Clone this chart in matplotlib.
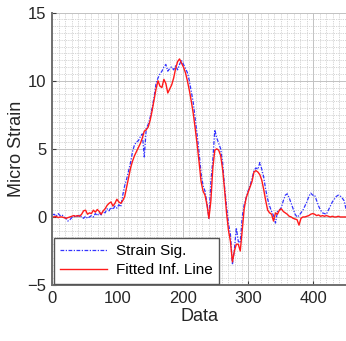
import numpy as np
import matplotlib
matplotlib.use("Agg")
import matplotlib.pyplot as plt
from matplotlib.ticker import MultipleLocator

plt.rcParams['font.family'] = ['Liberation Sans', 'DejaVu Sans']

# sample index step between stored readings
step = 3

strain_sig = [
    0.15, 0.2, 0.05, 0.25, 0.1, 0.15, 0.0, -0.1, -0.3, -0.2,
    -0.05, 0.0, 0.1, 0.05, 0.15, 0.0, -0.1, 0.05, -0.1, 0.0,
    0.1, 0.0, 0.25, 0.1, 0.3, 0.15, 0.4, 0.3, 0.6, 0.45,
    0.7, 0.55, 0.8, 0.65, 0.9, 0.75, 1.6, 2.3, 2.8, 3.4,
    4.0, 4.8, 5.3, 5.5, 5.6, 5.9, 6.1, 4.4, 6.5, 6.8,
    7.3, 8.0, 8.8, 9.8, 10.2, 10.5, 10.7, 11.0, 11.2, 10.7,
    10.9, 11.0, 10.8, 11.1, 10.8, 11.2, 11.5, 11.2, 10.9, 10.6,
    10.0, 9.2, 8.4, 7.2, 6.0, 4.7, 3.2, 2.3, 1.9, 1.0,
    -0.1, 2.6, 4.2, 6.4, 5.8, 5.4, 5.0, 4.0, 2.2, 0.8,
    -0.5, -1.3, -3.5, -2.4, -0.8, -1.8, -1.9, 0.0, 0.9, 1.4,
    1.9, 2.3, 2.8, 3.4, 3.6, 3.5, 4.0, 3.5, 2.9, 2.0,
    1.3, 0.8, 0.4, 0.1, -0.45, 0.4, 0.5, 0.7, 1.2, 1.6,
    1.7, 1.4, 1.0, 0.6, 0.2, 0.0, 0.1, 0.3, 0.5, 0.8,
    1.1, 1.5, 1.75, 1.6, 1.6, 1.2, 0.8, 0.5, 0.3, 0.25,
    0.2, 0.5, 0.8, 1.1, 1.3, 1.5, 1.6, 1.55, 1.4, 1.2,
    0.6,
]

fitted_line = [
    0.0, 0.0, 0.05, -0.05, 0.0, 0.0, -0.05, -0.1, -0.05, 0.0,
    0.05, 0.1, 0.05, 0.1, 0.05, 0.2, 0.45, 0.5, 0.2, 0.3,
    0.25, 0.5, 0.35, 0.55, 0.4, 0.2, 0.45, 0.6, 0.85, 1.0,
    1.1, 0.8, 1.0, 1.3, 1.1, 1.0, 1.2, 1.5, 2.2, 2.9,
    3.6, 4.1, 4.5, 4.8, 5.1, 5.4, 5.8, 6.3, 6.4, 6.6,
    7.1, 7.8, 8.6, 9.4, 10.0, 9.6, 9.5, 10.1, 9.8, 9.1,
    9.4, 9.7, 10.2, 10.9, 11.4, 11.6, 11.3, 11.0, 10.6, 10.0,
    9.3, 8.5, 7.6, 6.5, 5.3, 4.0, 2.6, 1.9, 1.6, 0.9,
    -0.1, 1.2, 3.6, 4.9, 5.0, 4.9, 4.5, 3.5, 2.0, 0.3,
    -1.0, -1.8, -3.3, -2.5, -2.0, -2.0, -2.5, -1.0, 0.6, 1.4,
    1.8, 2.2, 2.6, 3.3, 3.4, 3.3, 3.1, 2.7, 2.0, 1.2,
    0.5, 0.3, 0.2, -0.3, 0.3, 0.2, 0.5, 0.6, 0.4, 0.3,
    0.2, 0.05, 0.0, -0.1, -0.15, -0.2, -0.6, -0.1, 0.0, 0.0,
    0.05, 0.1, 0.2, 0.25, 0.2, 0.1, 0.15, 0.05, 0.1, 0.05,
    0.1, 0.05, 0.0, 0.05, 0.0, 0.0, 0.05, 0.0, 0.0, 0.0,
    0.0,
]

x_ticks = [0, 100, 200, 300, 400]
y_ticks = [-5, 0, 5, 10, 15]

x = np.arange(len(strain_sig)) * step

fig = plt.figure(figsize=(3.46, 3.41), dpi=100)
ax = fig.add_axes([0.151, 0.164, 0.849, 0.799])

ax.plot(x, strain_sig, color=(0.2, 0.2, 1.0), lw=0.9,
        linestyle=(0, (3, 1.2, 1, 1.2)), label='Strain Sig.')
ax.plot(x, fitted_line, color=(1.0, 0.1, 0.1), linestyle='-', lw=1.0,
        label='Fitted Inf. Line')

ax.set_xlim(0, 450)
ax.set_ylim(-5, 15)
ax.set_xticks(x_ticks)
ax.set_yticks(y_ticks)
ax.xaxis.set_minor_locator(MultipleLocator(10))
ax.yaxis.set_minor_locator(MultipleLocator(0.5))

ax.grid(which='major', color='#c2c2c2', lw=0.7, linestyle='-')
ax.grid(which='minor', color='#d0d0d0', lw=0.6, linestyle=(0, (1.5, 1.2)))
ax.set_axisbelow(True)

for side in ('top', 'right'):
    ax.spines[side].set_visible(False)
for side in ('left', 'bottom'):
    ax.spines[side].set_color('#707070')
    ax.spines[side].set_linewidth(1.4)

ax.tick_params(which='major', direction='in', length=3, width=0.8,
               color='#404040', labelsize=12, labelcolor='#262626', pad=4)
ax.tick_params(which='minor', direction='in', length=0)

ax.set_xlabel('Data', fontsize=13, color='#262626', labelpad=2)
ax.set_ylabel('Micro Strain', fontsize=13, color='#262626', labelpad=2)

leg = ax.legend(loc='lower left', fontsize=11, frameon=True, fancybox=False,
                framealpha=1, edgecolor='#555555', handlelength=3.1,
                borderaxespad=0.1, borderpad=0.4, labelspacing=0.35,
                handletextpad=0.6)
leg.get_frame().set_linewidth(1.0)

fig.savefig('out.png', dpi=100)
